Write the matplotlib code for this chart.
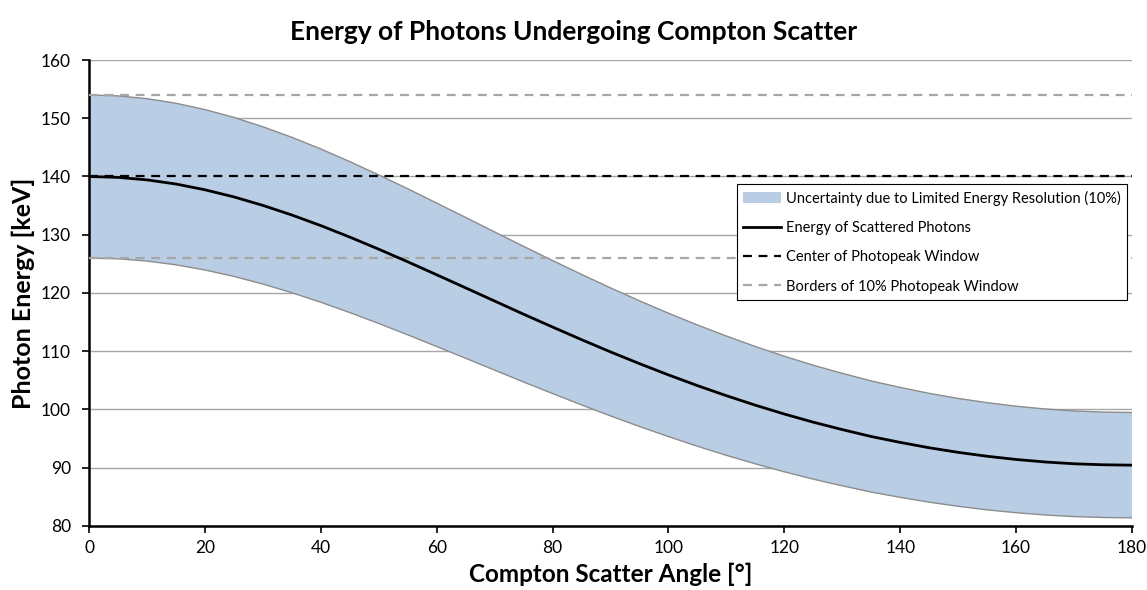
import matplotlib
matplotlib.use("Agg")
import matplotlib.pyplot as plt

plt.rcParams['font.family'] = ['Lato', 'DejaVu Sans']

angle = [0, 5, 10, 15, 20, 25, 30, 35, 40, 45, 50, 55, 60, 65, 70, 75, 80, 85, 90,
         95, 100, 105, 110, 115, 120, 125, 130, 135, 140, 145, 150, 155, 160, 165, 170, 175, 180]
energy = [140.0, 139.85, 139.42, 138.71, 137.72, 136.50, 135.04, 133.39, 131.57, 129.60,
          127.52, 125.36, 123.13, 120.88, 118.62, 116.36, 114.16, 111.99, 109.89,
          107.87, 105.94, 104.10, 102.37, 100.74, 99.22, 97.82, 96.55, 95.36, 94.35,
          93.43, 92.64, 91.97, 91.42, 90.99, 90.68, 90.51, 90.44]
upper = [154.0, 153.84, 153.36, 152.58, 151.49, 150.15, 148.54, 146.73, 144.73, 142.56,
         140.27, 137.90, 135.44, 132.97, 130.48, 128.00, 125.58, 123.19, 120.88,
         118.66, 116.53, 114.51, 112.61, 110.81, 109.14, 107.60, 106.21, 104.90, 103.79,
         102.77, 101.90, 101.17, 100.56, 100.09, 99.75, 99.56, 99.48]
lower = [126.0, 125.87, 125.48, 124.84, 123.95, 122.85, 121.54, 120.05, 118.41, 116.64,
         114.77, 112.82, 110.82, 108.79, 106.76, 104.72, 102.74, 100.79, 98.90,
         97.08, 95.35, 93.69, 92.13, 90.67, 89.30, 88.04, 86.90, 85.82, 84.92,
         84.09, 83.38, 82.77, 82.28, 81.89, 81.61, 81.46, 81.40]
center_window = 140
window_low = 126
window_high = 154

fig = plt.figure(figsize=(11.47, 5.90), dpi=100)
ax = fig.add_axes([0.0776, 0.1085, 0.9093, 0.7898])

ax.set_axisbelow(True)
ax.yaxis.grid(True, color='#a6a6a6', linewidth=1.0)

ax.fill_between(angle, lower, upper, facecolor='#b9cde5', edgecolor='none',
                label='Uncertainty due to Limited Energy Resolution (10%)', zorder=2)
ax.plot(angle, upper, color='#8c8c8c', linewidth=1.0, zorder=3)
ax.plot(angle, lower, color='#8c8c8c', linewidth=1.0, zorder=3)
ax.plot(angle, energy, color='black', linewidth=2.0, label='Energy of Scattered Photons', zorder=5)
ax.plot([0, 180], [center_window, center_window], color='black', linestyle=(0, (4, 3)),
        linewidth=1.6, label='Center of Photopeak Window', zorder=4)
ax.plot([0, 180], [window_high, window_high], color='#a6a6a6', linestyle=(0, (4, 3)),
        linewidth=1.6, label='Borders of 10% Photopeak Window', zorder=4)
ax.plot([0, 180], [window_low, window_low], color='#a6a6a6', linestyle=(0, (4, 3)),
        linewidth=1.6, zorder=4)

ax.set_xlim(0, 180)
ax.set_ylim(80, 160)
ax.set_xticks(range(0, 181, 20))
ax.set_yticks(range(80, 161, 10))
ax.tick_params(axis='both', direction='out', length=5, width=1.2, labelsize=12.5, colors='black')
ax.tick_params(axis='x', pad=5)
ax.tick_params(axis='y', pad=8)
for s in ['top', 'right']:
    ax.spines[s].set_visible(False)
for s in ['left', 'bottom']:
    ax.spines[s].set_linewidth(1.8)
    ax.spines[s].set_color('black')

ax.set_xlabel('Compton Scatter Angle [°]', fontsize=17.5, fontweight='bold', labelpad=5)
ax.set_ylabel('Photon Energy [keV]', fontsize=18, fontweight='bold', labelpad=4)
fig.text(0.5, 0.945, 'Energy of Photons Undergoing Compton Scatter', ha='center', va='center',
         fontsize=19, fontweight='bold')

handles, labels = ax.get_legend_handles_labels()
leg = ax.legend(handles, labels, loc='upper left', bbox_to_anchor=(0.621, 0.734),
                borderaxespad=0, fontsize=10.5, frameon=True, fancybox=False, edgecolor='black',
                framealpha=1, handlelength=2.6, labelspacing=1.05, borderpad=0.45,
                handletextpad=0.3)
leg.get_frame().set_linewidth(0.8)

fig.savefig('out.png', dpi=100)
